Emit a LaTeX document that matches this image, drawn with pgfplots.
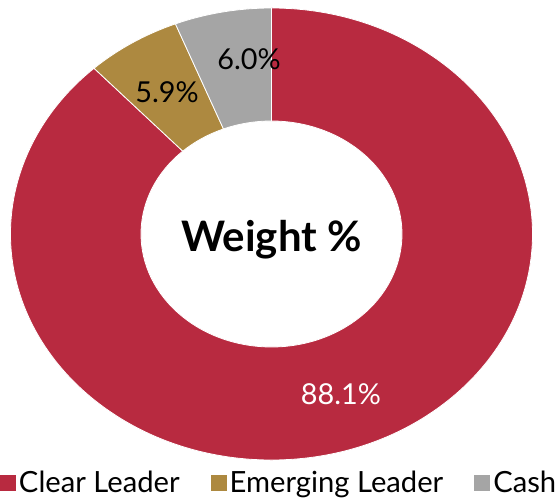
\documentclass[border=0pt]{standalone}
\usepackage{pgfplots}
\usepackage{pgfplotstable}
\pgfplotsset{compat=1.18}
\usepackage{fontspec}
\setmainfont{Lato}
\definecolor{cRed}{RGB}{184,42,64}
\definecolor{cGold}{RGB}{173,137,64}
\definecolor{cGray}{RGB}{165,165,165}
\pgfplotstableread{
label value
ClearLeader 88.1
EmergingLeader 5.9
Cash 6.0
}\donutdata
\begin{document}
\begin{tikzpicture}
\pgfplotstablegetelem{0}{value}\of\donutdata \let\vA\pgfplotsretval
\pgfplotstablegetelem{1}{value}\of\donutdata \let\vB\pgfplotsretval
\pgfplotstablegetelem{2}{value}\of\donutdata \let\vC\pgfplotsretval
\pgfmathsetmacro{\aZ}{90}
\pgfmathsetmacro{\aA}{90-3.6*\vA}
\pgfmathsetmacro{\aB}{\aA-3.6*\vB}
\pgfmathsetmacro{\aC}{\aB-3.6*\vC}
\begin{axis}[
  hide axis, clip=false,
  x=130.5pt, y=113pt,
  xmin=-1.0402, xmax=1.1015, ymin=-1.1637, ymax=1.0354,
  legend columns=3,
  legend style={draw=none, fill=none, at={(axis cs:-1.0402,-1.1637)}, anchor=south west,
    inner sep=0pt, outer sep=0pt, font=\fontsize{14.6pt}{16pt}\selectfont,
    nodes={inner xsep=1.5pt, inner ysep=1pt},
    /tikz/every odd column/.append style={column sep=0pt},
    /tikz/every even column/.append style={column sep=14pt}},
  legend image code/.code={\fill[#1] (0pt,-3.8pt) rectangle (7.6pt,3.8pt);},
]
\addlegendimage{cRed}
\addlegendentry{Clear Leader}
\addlegendimage{cGold}
\addlegendentry{Emerging Leader}
\addlegendimage{cGray}
\addlegendentry{Cash}
\foreach \sa/\ea/\col in {\aZ/\aA/cRed, \aA/\aB/cGold, \aB/\aC/cGray}{
  \edef\temp{\noexpand\fill[\col, draw=white, line width=0.4pt]
    (axis cs:{cos(\sa)},{sin(\sa)})
    arc[start angle=\sa, end angle=\ea, x radius=130.5pt, y radius=113pt]
    -- (axis cs:{0.5*cos(\ea)},{0.5*sin(\ea)})
    arc[start angle=\ea, end angle=\sa, x radius=65.25pt, y radius=56.5pt] -- cycle;}
  \temp
}
\node[font=\fontsize{14.4pt}{16pt}\selectfont, text=black] at (axis cs:-0.086,0.774) {6.0\%};
\node[font=\fontsize{14.4pt}{16pt}\selectfont, text=black] at (axis cs:-0.400,0.628) {5.9\%};
\node[font=\fontsize{14.4pt}{16pt}\selectfont, text=white] at (axis cs:0.266,-0.708) {88.1\%};
\node[font=\bfseries\fontsize{21pt}{24pt}\selectfont, text=black] at (axis cs:0,-0.027) {Weight \%};
\coordinate (bl) at (axis cs:-1.0402,-1.1637);
\coordinate (tr) at (axis cs:1.1015,1.0354);
\end{axis}
\pgfresetboundingbox
\path (bl) rectangle (tr);
\end{tikzpicture}
\end{document}
